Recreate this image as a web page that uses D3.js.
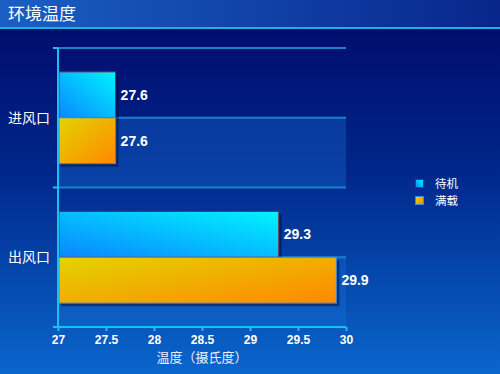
<!DOCTYPE html>
<html>
<head>
<meta charset="utf-8">
<script src="https://cdn.jsdelivr.net/npm/d3@7"></script>
<style>
  html, body { margin: 0; padding: 0; background: #000a6a; }
  svg { display: block; }
</style>
</head>
<body>
<div id="chart"></div>
<script>
// chart data
const categories = ['进风口', '出风口'];
const seriesNames = ['待机', '满载'];
const standbyValues = [27.6, 29.3];
const fullLoadValues = [27.6, 29.9];
const xTicks = [27, 27.5, 28, 28.5, 29, 29.5, 30];
const titleText = '环境温度';
const xTitle = '温度（摄氏度）';

(function() {
    'use strict';

    const width = 500, height = 374;
    const margin = { top: 48, left: 58, right: 154, bottom: 47 };
    const plotW = width - margin.left - margin.right;   // 288
    const plotH = height - margin.top - margin.bottom;  // 279
    const font = '"Noto Sans CJK SC", "Liberation Sans", Arial, sans-serif';

    const svg = d3.select('#chart').append('svg')
        .attr('width', width)
        .attr('height', height);

    const defs = svg.append('defs');

    const bg = defs.append('linearGradient').attr('id', 'bg')
        .attr('x1', 0).attr('y1', 0).attr('x2', 0).attr('y2', 1);
    bg.append('stop').attr('offset', '0%').attr('stop-color', '#000868');
    bg.append('stop').attr('offset', '45%').attr('stop-color', '#00268a');
    bg.append('stop').attr('offset', '100%').attr('stop-color', '#0a66cc');

    const titleBg = defs.append('linearGradient').attr('id', 'titleBg')
        .attr('x1', 0).attr('y1', 0).attr('x2', 1).attr('y2', 0);
    titleBg.append('stop').attr('offset', '0%').attr('stop-color', '#1a5fc2');
    titleBg.append('stop').attr('offset', '100%').attr('stop-color', '#08268c');

    const gStandby = defs.append('linearGradient').attr('id', 'gStandby')
        .attr('x1', 0).attr('y1', 1).attr('x2', 1).attr('y2', 0);
    gStandby.append('stop').attr('offset', '0%').attr('stop-color', '#0a86ff');
    gStandby.append('stop').attr('offset', '100%').attr('stop-color', '#00f4ff');

    const gFull = defs.append('linearGradient').attr('id', 'gFull')
        .attr('x1', 0).attr('y1', 0).attr('x2', 1).attr('y2', 1);
    gFull.append('stop').attr('offset', '0%').attr('stop-color', '#e2d400');
    gFull.append('stop').attr('offset', '100%').attr('stop-color', '#ff8800');

    const fills = ['url(#gStandby)', 'url(#gFull)'];
    const strokes = ['#8a1c34', '#3a8ad8'];

    // background
    svg.append('rect').attr('width', width).attr('height', height).attr('fill', 'url(#bg)');

    // title bar
    svg.append('rect').attr('width', width).attr('height', 28).attr('fill', 'url(#titleBg)');
    svg.append('rect').attr('y', 27).attr('width', width).attr('height', 2).attr('fill', '#1ab0e8');
    svg.append('text')
        .attr('x', 8).attr('y', 20)
        .attr('fill', '#ffffff')
        .attr('font-family', font)
        .attr('font-size', 17)
        .text(titleText);

    const x = d3.scaleLinear()
        .domain([xTicks[0], xTicks[xTicks.length - 1]])
        .range([0, plotW]);

    const y0 = d3.scaleBand()
        .domain(categories)
        .range([0, plotH])
        .paddingInner(0)
        .paddingOuter(0);

    const y1 = d3.scaleBand()
        .domain(seriesNames)
        .range([0, y0.bandwidth()])
        .paddingInner(0)
        .paddingOuter(0.52);

    const g = svg.append('g')
        .attr('transform', `translate(${margin.left},${margin.top})`);

    // alternating half bands (lower half of each category)
    g.selectAll('.band')
        .data(categories)
        .enter().append('rect')
        .attr('x', 0)
        .attr('y', d => y0(d) + y0.bandwidth() / 2)
        .attr('width', plotW)
        .attr('height', y0.bandwidth() / 2)
        .attr('fill', '#1a70d8')
        .attr('fill-opacity', 0.35);

    // grid lines at category edges and midpoints
    const gridYs = [];
    categories.forEach(c => {
        gridYs.push(y0(c));
        gridYs.push(y0(c) + y0.bandwidth() / 2);
    });
    g.selectAll('.grid')
        .data(gridYs)
        .enter().append('line')
        .attr('x1', 0).attr('x2', plotW)
        .attr('y1', d => d).attr('y2', d => d)
        .attr('stroke', '#1a7fd0')
        .attr('stroke-width', 2);

    // bars
    const rows = [];
    categories.forEach((c, i) => {
        rows.push({ cat: c, s: 0, v: standbyValues[i] });
        rows.push({ cat: c, s: 1, v: fullLoadValues[i] });
    });

    // shadows
    g.selectAll('.shadow')
        .data(rows)
        .enter().append('rect')
        .attr('x', 3)
        .attr('y', d => y0(d.cat) + y1(seriesNames[d.s]) + 3)
        .attr('width', d => x(d.v))
        .attr('height', y1.bandwidth())
        .attr('fill', '#001040')
        .attr('fill-opacity', 0.55);

    g.selectAll('.bar')
        .data(rows)
        .enter().append('rect')
        .attr('x', 1)
        .attr('y', d => y0(d.cat) + y1(seriesNames[d.s]))
        .attr('width', d => x(d.v) - 1)
        .attr('height', y1.bandwidth())
        .attr('fill', d => fills[d.s])
        .attr('stroke', d => strokes[d.s])
        .attr('stroke-width', 1);

    g.selectAll('.val')
        .data(rows)
        .enter().append('text')
        .attr('x', d => x(d.v) + 5)
        .attr('y', d => y0(d.cat) + y1(seriesNames[d.s]) + y1.bandwidth() / 2 + 5)
        .attr('fill', '#ffffff')
        .attr('font-family', '"Liberation Sans", Arial, sans-serif')
        .attr('font-weight', 'bold')
        .attr('font-size', 14)
        .text(d => d.v.toFixed(1));

    // y axis
    const axisColor = '#19c0f0';
    g.append('line')
        .attr('x1', 0).attr('x2', 0)
        .attr('y1', 0).attr('y2', plotH)
        .attr('stroke', axisColor).attr('stroke-width', 2);
    const yTickYs = [0].concat(categories.map(c => y0(c) + y0.bandwidth()));
    g.selectAll('.ytick')
        .data(yTickYs)
        .enter().append('line')
        .attr('x1', -5).attr('x2', 0)
        .attr('y1', d => d).attr('y2', d => d)
        .attr('stroke', axisColor).attr('stroke-width', 2);

    g.selectAll('.ylab')
        .data(categories)
        .enter().append('text')
        .attr('x', -8)
        .attr('y', d => y0(d) + y0.bandwidth() / 2 + 5)
        .attr('text-anchor', 'end')
        .attr('fill', '#ffffff')
        .attr('font-family', font)
        .attr('font-size', 14)
        .text(d => d);

    // x axis
    const xAxis = g.append('g')
        .attr('transform', `translate(0,${plotH})`)
        .call(d3.axisBottom(x).tickValues(xTicks).tickSize(4).tickSizeOuter(0).tickFormat(d3.format('')));
    xAxis.select('.domain').remove();
    xAxis.append('line')
        .attr('x1', -5).attr('x2', plotW)
        .attr('stroke', axisColor).attr('stroke-width', 2);
    xAxis.selectAll('.tick line').attr('stroke', axisColor).attr('stroke-width', 2);
    xAxis.selectAll('.tick text')
        .attr('fill', '#ffffff')
        .attr('font-family', '"Liberation Sans", Arial, sans-serif')
        .attr('font-weight', 'bold')
        .attr('font-size', 12)
        .attr('dy', '0.85em');

    g.append('text')
        .attr('x', plotW / 2)
        .attr('y', plotH + 35)
        .attr('text-anchor', 'middle')
        .attr('fill', '#e8f0ff')
        .attr('font-family', font)
        .attr('font-size', 13)
        .text(xTitle);

    // legend
    const legend = svg.append('g').attr('transform', 'translate(415,180)');
    seriesNames.forEach((name, i) => {
        const row = legend.append('g').attr('transform', `translate(0,${i * 17})`);
        row.append('rect')
            .attr('x', 0.5).attr('y', -0.5)
            .attr('width', 8).attr('height', 8)
            .attr('fill', fills[i])
            .attr('stroke', strokes[i]);
        row.append('text')
            .attr('x', 20).attr('y', 8)
            .attr('fill', '#ffffff')
            .attr('font-family', font)
            .attr('font-size', 11.5)
            .text(name);
    });
})();
</script>
</body>
</html>
